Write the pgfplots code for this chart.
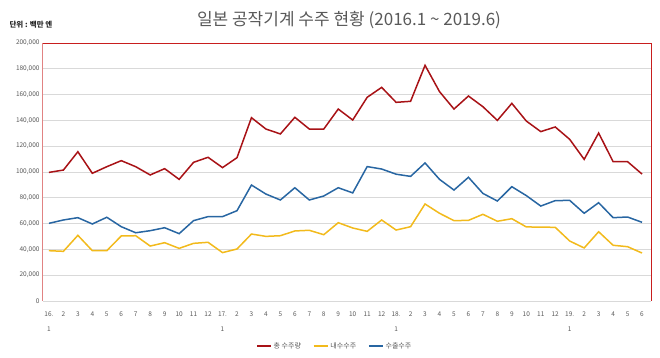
\documentclass[border=0pt]{standalone}
\usepackage{pgfplots}
\pgfplotsset{compat=1.18}
\usepackage{fontspec}
\setmainfont{Noto Sans CJK KR}
\definecolor{cRed}{RGB}{168,18,22}
\definecolor{cYel}{RGB}{242,186,28}
\definecolor{cBlu}{RGB}{40,102,162}
\definecolor{txt}{RGB}{89,89,89}
\definecolor{grd}{RGB}{217,217,217}
\definecolor{frameR}{RGB}{200,30,30}
\begin{document}
\begin{tikzpicture}
\begin{axis}[
  name=ax,
  width=608pt, height=258pt, scale only axis,
  xmin=0.59, xmax=42.62, ymin=0, ymax=200000,
  ytick={0,20000,...,200000},
  scaled y ticks=false,
  /pgf/number format/.cd, fixed, 1000 sep={,}, assume math mode=true, /pgfplots/.cd,
  yticklabel style={font=\fontsize{6.5}{8}\selectfont, text=txt},
  ymajorgrids, grid style={grd, line width=0.6pt},
  xtick={1,...,42},
  xticklabels={{16.\\1},2,3,4,5,6,7,8,9,10,11,12,{17.\\1},2,3,4,5,6,7,8,9,10,11,12,{18.\\1},2,3,4,5,6,7,8,9,10,11,12,{19.\\1},2,3,4,5,6},
  xticklabel style={font=\fontsize{6.5}{15}\selectfont, text=txt, align=center, anchor=north, yshift=-7pt},
  major tick length=0pt,
  axis line style={draw=none},
  legend style={at={(axis description cs:0.48,-0.175)}, anchor=center, draw=none, legend columns=3, font=\fontsize{7}{8}\selectfont, text=txt, /tikz/every even column/.append style={column sep=10pt}},
  legend image code/.code={\draw[#1, line width=1.4pt] (0pt,0pt) -- (14pt,0pt);},
  clip=false,
]
\addplot[cRed, line width=1.5pt] coordinates {
(1,99700)(2,101500)(3,115700)(4,99000)(5,104100)(6,108800)(7,104100)(8,97700)(9,102600)(10,94300)(11,107500)(12,111400)
(13,103400)(14,111100)(15,142100)(16,133300)(17,129500)(18,142400)(19,133300)(20,133300)(21,148800)(22,140300)(23,157900)(24,165600)
(25,154000)(26,154800)(27,182700)(28,162300)(29,148800)(30,158900)(31,150600)(32,140000)(33,153200)(34,139500)(35,131300)(36,134900)
(37,125300)(38,109800)(39,130200)(40,108000)(41,108000)(42,98400)};
\addlegendentry{총 수주량}
\addplot[cYel, line width=1.5pt] coordinates {
(1,39000)(2,38500)(3,50900)(4,39000)(5,39000)(6,50400)(7,50600)(8,42600)(9,45200)(10,40800)(11,44700)(12,45500)
(13,37500)(14,40300)(15,51900)(16,50100)(17,50600)(18,54300)(19,54800)(20,51400)(21,60700)(22,56600)(23,54000)(24,62800)
(25,55000)(26,57600)(27,75200)(28,68000)(29,62300)(30,62500)(31,67200)(32,61800)(33,63800)(34,57400)(35,57300)(36,57100)
(37,46500)(38,41100)(39,53700)(40,43200)(41,42100)(42,37200)};
\addlegendentry{내수수주}
\addplot[cBlu, line width=1.5pt] coordinates {
(1,60200)(2,62800)(3,64600)(4,59700)(5,64900)(6,57600)(7,52900)(8,54500)(9,56800)(10,52200)(11,62300)(12,65400)
(13,65400)(14,70000)(15,89900)(16,82900)(17,78300)(18,87800)(19,78300)(20,81400)(21,87800)(22,83800)(23,104200)(24,102300)
(25,98300)(26,96600)(27,107000)(28,94300)(29,86000)(30,95900)(31,83400)(32,77500)(33,88600)(34,81700)(35,73600)(36,77800)
(37,78000)(38,68000)(39,76200)(40,64600)(41,65100)(42,61000)};
\addlegendentry{수출수주}
\draw[grd, line width=0.8pt] (axis cs:0.59,0) -- (axis cs:42.62,0);
\draw[frameR!55, line width=1pt] (axis cs:0.59,0) -- (axis cs:0.59,200000);
\draw[frameR, line width=0.8pt] (axis cs:0.59,200000) -- (axis cs:42.62,200000) -- (axis cs:42.62,0);
\end{axis}
\path[use as bounding box] ([shift={(-43pt,-57pt)}]ax.south west) rectangle ([shift={(617pt,301pt)}]ax.south west);
\node[text=txt,font=\fontsize{17}{19}\selectfont] at ([shift={(306pt,281pt)}]ax.south west) {일본 공작기계 수주 현황 (2016.1 \char`~{} 2019.6)};
\node[anchor=west,font=\fontsize{7.5}{9}\selectfont\bfseries,text=black!85] at ([shift={(-37pt,276pt)}]ax.south west) {단위 : 백만 엔};
\end{tikzpicture}
\end{document}
